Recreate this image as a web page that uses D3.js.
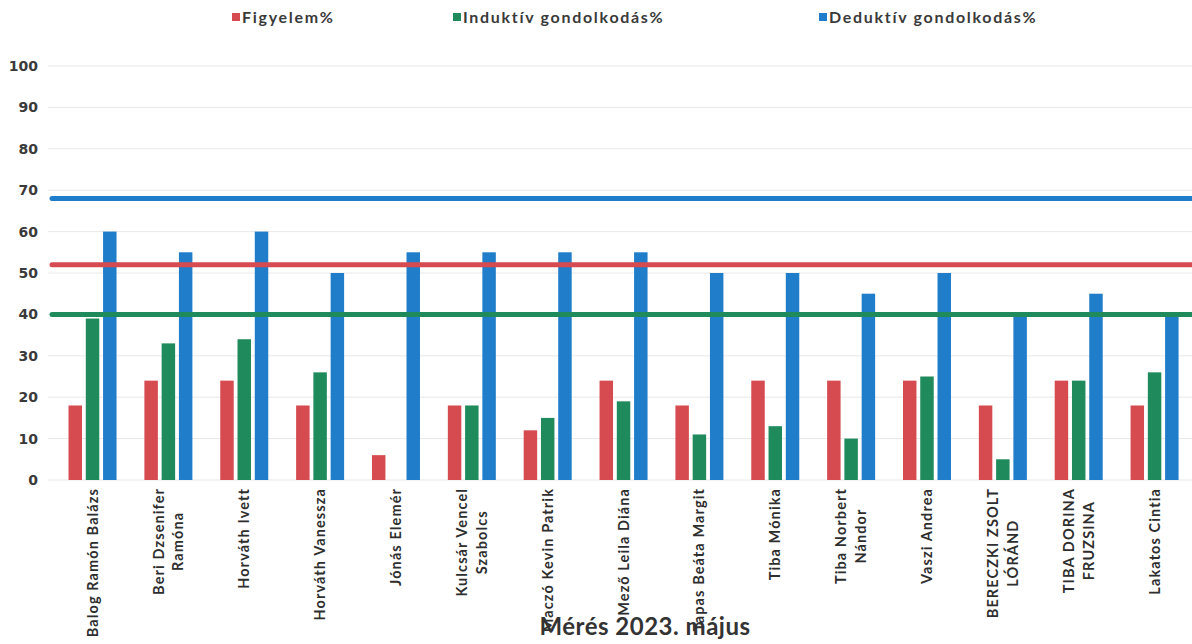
<!DOCTYPE html>
<html><head><meta charset="utf-8">
<script src="https://cdn.jsdelivr.net/npm/d3@7"></script>
<style>body{margin:0;background:#fff;}svg{display:block;}</style>
</head><body><svg id="c" width="1192" height="644"></svg>
<script>
const names = [
  ["Balog Ramón Balázs"],
  ["Beri Dzsenifer","Ramóna"],
  ["Horváth Ivett"],
  ["Horváth Vanessza"],
  ["Jónás Elemér"],
  ["Kulcsár Vencel","Szabolcs"],
  ["Maczó Kevin Patrik"],
  ["Mező Leila Diána"],
  ["Tapas Beáta Margit"],
  ["Tiba Mónika"],
  ["Tiba Norbert","Nándor"],
  ["Vaszi Andrea"],
  ["BERECZKI ZSOLT","LÓRÁND"],
  ["TIBA DORINA","FRUZSINA"],
  ["Lakatos Cintia"]
];
const seriesNames = ["Figyelem%","Induktív gondolkodás%","Deduktív gondolkodás%"];
const figyelem = [18,24,24,18,6,18,12,24,18,24,24,24,18,24,18];
const induktiv = [39,33,34,26,0,18,15,19,11,13,10,25,5,24,26];
const deduktiv = [60,55,60,50,55,55,55,55,50,50,45,50,40,45,40];
const averages = [52,40,68];
const yTicks = [0,10,20,30,40,50,60,70,80,90,100];
const title = "Mérés 2023. május";
const colors = ["#d64b50","#1f8a5b","#1f7dca"];

const svg = d3.select("#c");
const ids = names.map((d,i)=>i);
const x = d3.scaleBand().domain(ids).range([54.6,1192.5]);
const y = d3.scaleLinear().domain([0,100]).range([480,66]);
const inner = d3.scaleBand().domain([0,1,2]).range([x.bandwidth()/2-24, x.bandwidth()/2+24]).paddingInner(0.22);

// gridlines
svg.append("g").selectAll("line").data(yTicks).join("line")
  .attr("x1",48).attr("x2",1192)
  .attr("y1",d=>y(d)).attr("y2",d=>y(d))
  .attr("stroke","#e8e8e8").attr("stroke-width",1);

// y axis labels
const yAxis = d3.axisLeft(y).tickValues(yTicks).tickSize(0).tickPadding(0);
const ga = svg.append("g").attr("transform","translate(38,0)").call(yAxis);
ga.select(".domain").remove();
ga.selectAll("text").attr("font-family","DejaVu Sans").attr("font-size",14).attr("font-weight","bold").attr("fill","#3a3a3a");

// bars
const all = [figyelem,induktiv,deduktiv];
all.forEach((vals,s)=>{
  svg.append("g").selectAll("rect").data(vals).join("rect")
    .attr("x",(d,i)=>x(i)+inner(s))
    .attr("width",inner.bandwidth())
    .attr("y",d=>y(d))
    .attr("height",d=>y(0)-y(d))
    .attr("fill",colors[s]);
});

// average lines
averages.forEach((v,s)=>{
  svg.append("line").attr("x1",52).attr("x2",1200)
    .attr("y1",y(v)).attr("y2",y(v))
    .attr("stroke",colors[s]).attr("stroke-width",5).attr("stroke-linecap","round");
});

// x labels
const lab = svg.append("g");
names.forEach((lines,i)=>{
  const cx = x(i)+x.bandwidth()/2;
  const g = lab.append("g").attr("transform",`translate(${cx},488) rotate(-90)`);
  const ts = lines.map((t,k)=> g.append("text").text(t)
    .attr("font-family","Lato").attr("font-weight","bold").attr("font-size",14.5)
    .attr("fill","#2e2e2e").attr("letter-spacing",1.1));
  const maxLen = d3.max(ts, t=>t.node().getComputedTextLength());
  const n = lines.length, lh = 19.5;
  ts.forEach((t,k)=>{
    t.attr("text-anchor","middle").attr("x",-maxLen/2)
     .attr("y",(k-(n-1)/2)*lh).attr("dy","0.35em");
  });
});

// legend
const legX = [232,453,819];
seriesNames.forEach((n,s)=>{
  svg.append("rect").attr("x",legX[s]).attr("y",13).attr("width",8).attr("height",8).attr("fill",colors[s]);
  svg.append("text").attr("x",legX[s]+10).attr("y",17).attr("dy","0.35em")
    .attr("font-family","Lato").attr("font-weight","bold").attr("font-size",16)
    .attr("letter-spacing",1.7)
    .attr("fill","#3a3a3a").text(n);
});

// title
svg.append("text").attr("x",645).attr("y",627).attr("dy","0.35em").attr("text-anchor","middle")
  .attr("font-family","Lato").attr("font-weight","bold").attr("font-size",24)
  .attr("letter-spacing",0.5)
  .attr("fill","#333").text(title);
</script></body></html>
